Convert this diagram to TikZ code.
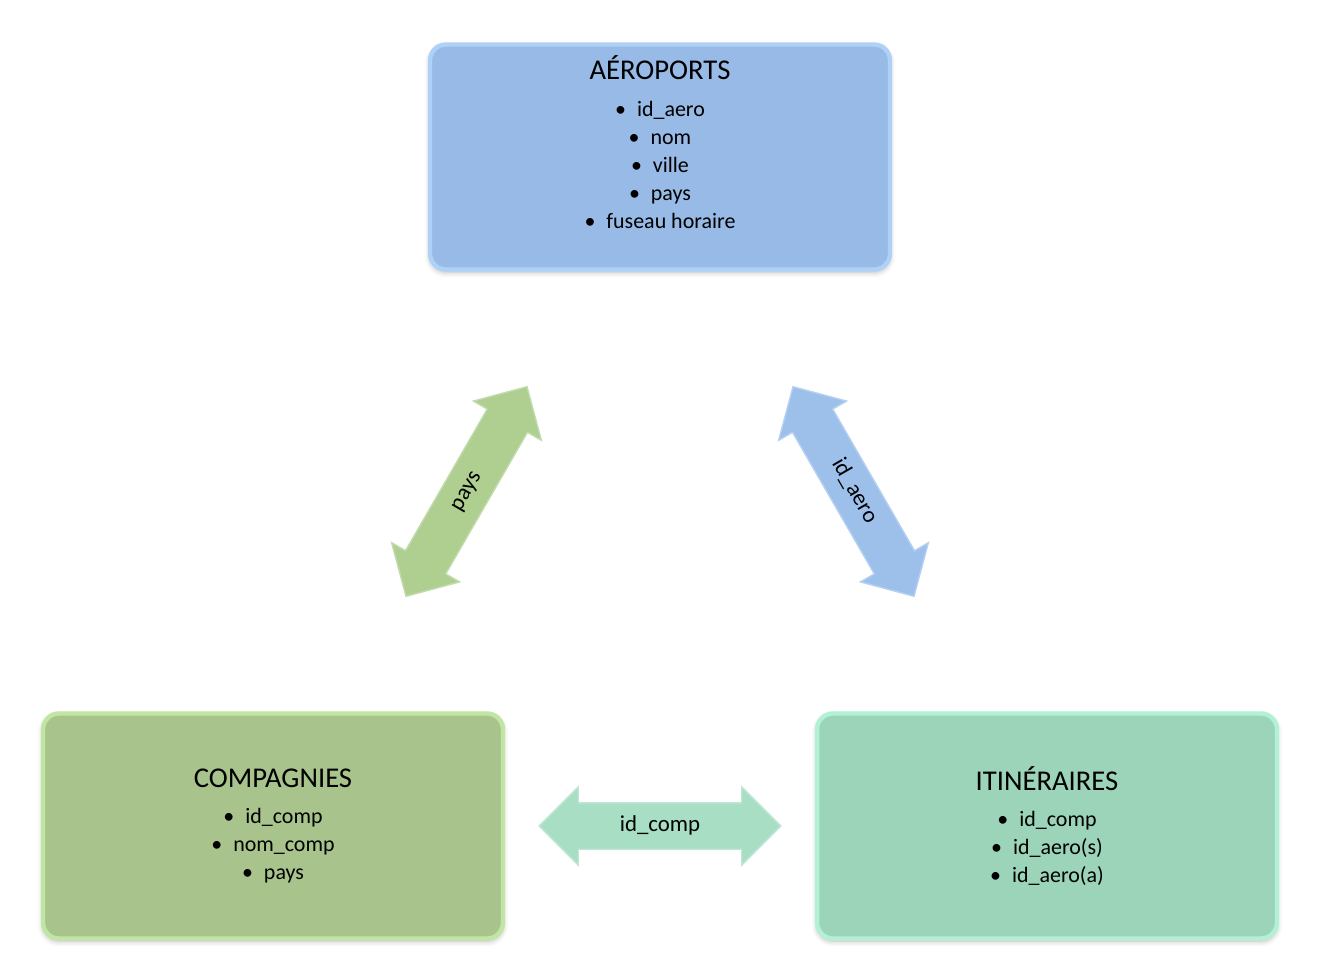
\documentclass[tikz,border=0pt]{standalone}
\usepackage{fontspec}
\setmainfont{Carlito}
\usetikzlibrary{shapes.arrows,calc,positioning,shadows.blur}
\definecolor{aeroF}{HTML}{98BAE6}
\definecolor{aeroE}{HTML}{AED2F7}
\definecolor{compF}{HTML}{A8C48C}
\definecolor{compE}{HTML}{C2E5A3}
\definecolor{itinF}{HTML}{9CD4BA}
\definecolor{itinE}{HTML}{B3F1D6}
\definecolor{lienV}{HTML}{AECF90}
\definecolor{lienB}{HTML}{9DC0EB}
\definecolor{lienT}{HTML}{A7DEC4}
\newcommand{\boxtitle}[1]{{\fontsize{16.3}{19}\selectfont #1}\\[5pt]}
\newcommand{\attr}[1]{\textbullet\hspace{0.5em}#1}

\begin{document}
\begin{tikzpicture}[x=0.02cm,y=-0.02cm,
    table/.style={rectangle, rounded corners=9pt, minimum width=9.2cm, minimum height=4.5cm,
        line width=2.5pt, align=center, font=\fontsize{12.5}{15.9}\selectfont,
        blur shadow={shadow xshift=0pt, shadow yshift=-1.5pt, shadow blur radius=3pt, shadow opacity=30}},
    link/.style={double arrow, double arrow head extend=0.32cm, minimum height=4.84cm,
        text height=0.3cm, text depth=0.1cm, inner ysep=0.25cm, inner xsep=0pt,
        font=\fontsize{13}{15}\selectfont, line width=0.8pt, draw=#1!75!white, fill=#1}]

    \useasboundingbox (0,0) rectangle (1322,980);

    \node[table, fill=aeroF, draw=aeroE] (aero) at (660,157)
        {\boxtitle{AÉROPORTS}\attr{id\_aero}\\ \attr{nom}\\ \attr{ville}\\ \attr{pays}\\ \attr{fuseau horaire}\rule[-17pt]{0pt}{17pt}};
    \node[table, fill=compF, draw=compE] (comp) at (273,826)
        {\boxtitle{COMPAGNIES}\attr{id\_comp}\\ \attr{nom\_comp}\\ \attr{pays}};
    \node[table, fill=itinF, draw=itinE] (itin) at (1047,826)
        {\boxtitle{ITINÉRAIRES}\attr{id\_comp}\\ \attr{id\_aero(s)}\\ \attr{id\_aero(a)}};

    % liens entre les tables
    \foreach \a/\b/\ang/\col/\txt in {comp/aero/60/lienV/pays, aero/itin/-60/lienB/id\_aero, comp/itin/0/lienT/id\_comp}{
        \node[link=\col, rotate=\ang] (\a-\b) at ($(\a)!.5!(\b)$) {\txt};
    }

\end{tikzpicture}
\end{document}
